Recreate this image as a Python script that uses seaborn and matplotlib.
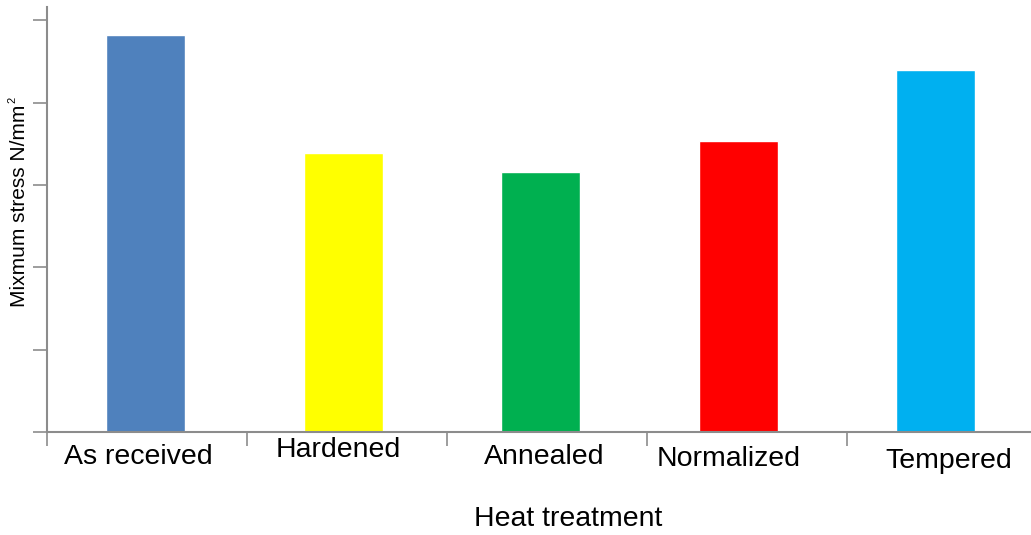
import numpy as np
import pandas as pd
import matplotlib
matplotlib.use("Agg")
import matplotlib.pyplot as plt
import matplotlib.transforms as mtransforms
import seaborn as sns

# values (no tick labels in the original, units of N/mm^2)
treatments = ["As received", "Hardened", "Annealed", "Normalized", "Tempered"]
max_stress = [482, 339, 316, 353, 439]
bar_colors = ["#4F81BD", "#FFFF00", "#00B050", "#FF0000", "#00B0F0"]
y_ticks = [0, 100, 200, 300, 400, 500]

df = pd.DataFrame({"treatment": treatments, "stress": max_stress})

sns.set_theme(style="white")
plt.rcParams["font.family"] = ["Liberation Sans", "DejaVu Sans"]
plt.rcParams["text.color"] = "black"
plt.rcParams["xtick.labelcolor"] = "black"

fig = plt.figure(figsize=(10.31, 5.35), dpi=100)
ax = fig.add_axes([47 / 1031, 1 - 432 / 535, 1 - 47 / 1031, (432 - 7) / 535])

sns.barplot(data=df, x="treatment", y="stress", hue="treatment",
            palette=bar_colors, legend=False, width=0.4, saturation=1, ax=ax)

ax.set_xlim(-0.5, -0.5 + 984 / 197.5)
ax.set_ylim(0, 516)

# y ticks without labels
ax.set_yticks(y_ticks)
ax.set_yticklabels([])
ax.tick_params(axis="y", direction="out", length=10, width=1.2, color="#8c8c8c", left=True)

# labels under the bars, tick marks between the categories
ax.set_xticks(range(len(treatments)))
ax.set_xticklabels(treatments, fontsize=20.5, color="black")
ax.set_xticks(-0.5 + np.arange(5) * 200 / 197.5, minor=True)
ax.tick_params(axis="x", which="major", length=0, pad=12)
ax.tick_params(axis="x", which="minor", direction="out", length=10, width=1.2,
               color="#8c8c8c", bottom=True)

# small shifts so the labels sit like in the original (pixels, up is +)
shifts = [(-7, 5), (-5, 12), (3, 5), (-10, 3), (13, 1)]
for lab, (dx, dy) in zip(ax.get_xticklabels(), shifts):
    lab.set_transform(lab.get_transform() +
                      mtransforms.ScaledTranslation(dx / 100, dy / 100, fig.dpi_scale_trans))

for side in ["top", "right"]:
    ax.spines[side].set_visible(False)
for side in ["left", "bottom"]:
    ax.spines[side].set_color("#8c8c8c")
    ax.spines[side].set_linewidth(1.5)

ax.set_xlabel("")
ax.set_ylabel("")
fig.text(568 / 1031, 1 - 519 / 535, "Heat treatment", fontsize=20.5, ha="center", va="center")
fig.text(20 / 1031, 1 - 206 / 535, "Mixmum stress N/mm", fontsize=15,
         rotation=90, ha="center", va="center")
fig.text(12 / 1031, 1 - 100 / 535, "2", fontsize=8, rotation=90, ha="center", va="center")

fig.savefig("out.png", dpi=100)
